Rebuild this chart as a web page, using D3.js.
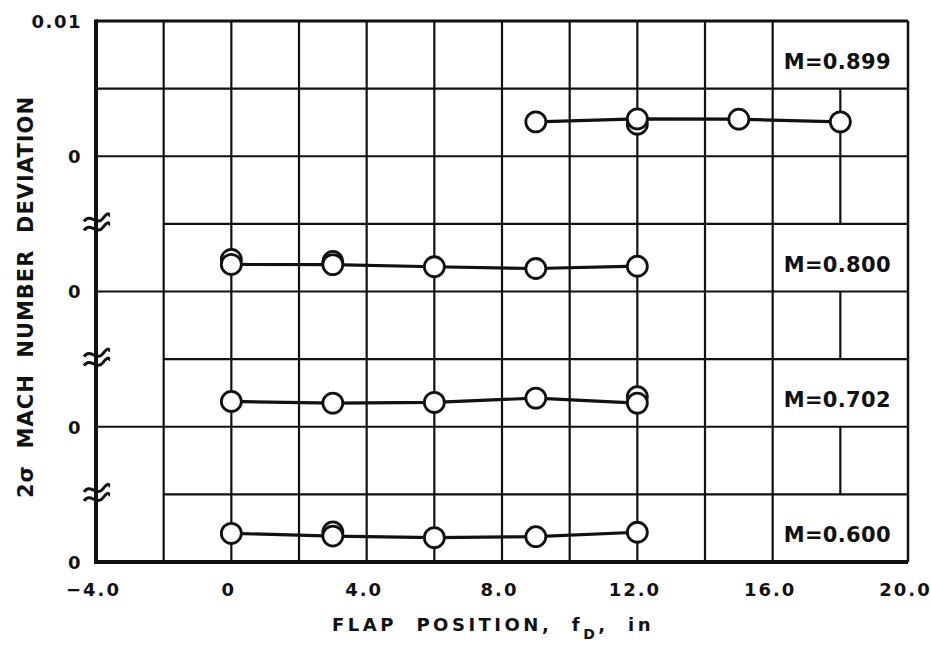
<!DOCTYPE html>
<html>
<head>
<meta charset="utf-8">
<script src="https://cdn.jsdelivr.net/npm/d3@7"></script>
<style>
  html, body { margin: 0; padding: 0; background: #fff; }
  svg text { font-family: "DejaVu Sans", "Liberation Sans", Arial, sans-serif; font-weight: bold; fill: #111; }
</style>
</head>
<body>
<svg id="chart" width="931" height="645"></svg>
<script>
// Flap position sweeps (inches) and 2-sigma Mach number deviation for each Mach number.
const machLabels = ["M=0.899", "M=0.800", "M=0.702", "M=0.600"];
const panelBase = [0.03, 0.02, 0.01, 0.0];        // stacked zero of each Mach panel
const labelRowBase = [0.035, 0.02, 0.01, 0.0];    // bottom of the row holding each M= label

const flap899 = [9, 12, 15, 18];
const dev899 = [0.00254, 0.00276, 0.00274, 0.00254];
const flapLow = [0, 3, 6, 9, 12];
const dev800 = [0.00200, 0.00199, 0.00183, 0.00170, 0.00187];
const dev702 = [0.00187, 0.00175, 0.00180, 0.00212, 0.00175];
const dev600 = [0.00212, 0.00192, 0.00180, 0.00187, 0.00220];

// Repeated runs plotted behind the main symbols: [flap, deviation]
const repeat899 = [[12, 0.00237]];
const repeat800 = [[0, 0.00237], [3, 0.00222]];
const repeat702 = [[12, 0.00222]];
const repeat600 = [[3, 0.00222]];

const xTicks = [-4, 0, 4, 8, 12, 16, 20];
const xTickLabels = ["\u22124.0", "0", "4.0", "8.0", "12.0", "16.0", "20.0"];
const yTicks = [0, 0.01, 0.02, 0.03, 0.04];
const yTickLabels = ["0", "0", "0", "0", "0.01"];
const breakLevels = [0.005, 0.015, 0.025];

const series = [
  { flap: flap899, dev: dev899, repeats: repeat899 },
  { flap: flapLow, dev: dev800, repeats: repeat800 },
  { flap: flapLow, dev: dev702, repeats: repeat702 },
  { flap: flapLow, dev: dev600, repeats: repeat600 }
];

const svg = d3.select("#chart");
const x = d3.scaleLinear().domain([-4, 20]).range([96, 908]);
const y = d3.scaleLinear().domain([0, 0.04]).range([562, 21]);

// spread a text's letters so that it covers the given width
function fitWidth(sel, width) {
  sel.attr("letter-spacing", 0);
  const node = sel.node();
  const natural = node.getComputedTextLength();
  const n = node.textContent.length;
  sel.attr("letter-spacing", Math.max(0, (width - natural) / Math.max(1, n - 1)));
}

const grid = svg.append("g").attr("stroke", "#111").attr("stroke-width", 2.2).attr("fill", "none");

// vertical grid lines
const labelRows = labelRowBase.map(v => Math.round(v / 0.005));
d3.range(-2, 18, 2).forEach(v => {
  grid.append("line").attr("x1", x(v)).attr("x2", x(v)).attr("y1", y(0)).attr("y2", y(0.04));
});
// the line at 18 in stops at the label cells
d3.range(0, 8).filter(r => !labelRows.includes(r)).forEach(r => {
  grid.append("line").attr("x1", x(18)).attr("x2", x(18))
    .attr("y1", y(r * 0.005)).attr("y2", y((r + 1) * 0.005));
});

// horizontal grid lines
d3.range(1, 8).forEach(r => {
  const v = r * 0.005;
  const isBreak = breakLevels.some(b => Math.abs(b - v) < 1e-9);
  grid.append("line").attr("x1", x(isBreak ? -2 : -4)).attr("x2", x(20))
    .attr("y1", y(v)).attr("y2", y(v));
});

// frame
svg.append("line").attr("x1", x(-4)).attr("x2", x(20)).attr("y1", y(0.04)).attr("y2", y(0.04))
  .attr("stroke", "#111").attr("stroke-width", 3);
svg.append("line").attr("x1", x(20)).attr("x2", x(20)).attr("y1", y(0)).attr("y2", y(0.04))
  .attr("stroke", "#111").attr("stroke-width", 2.5);
svg.append("line").attr("x1", x(-4)).attr("x2", x(20)).attr("y1", y(0)).attr("y2", y(0))
  .attr("stroke", "#111").attr("stroke-width", 4);
svg.append("line").attr("x1", x(-4)).attr("x2", x(-4)).attr("y1", y(0) + 2).attr("y2", y(0.04) - 1.5)
  .attr("stroke", "#111").attr("stroke-width", 4);

// axis break marks
breakLevels.forEach(b => {
  const cx = x(-4), cy = y(b);
  [-4.5, 4.5].forEach(off => {
    svg.append("path")
      .attr("d", `M${cx - 12},${cy + off + 2} C${cx - 6},${cy + off - 7} ${cx + 1},${cy + off + 7} ${cx + 7},${cy + off - 1} S${cx + 13},${cy + off - 4} ${cx + 14},${cy + off - 4}`)
      .attr("fill", "none").attr("stroke", "#111").attr("stroke-width", 3);
  });
});

// Mach number labels
labelRowBase.forEach((v, i) => {
  const t = svg.append("text")
    .attr("x", x(18) - 3).attr("y", (y(v) + y(v + 0.005)) / 2 + 14)
    .attr("text-anchor", "middle").attr("font-size", 21)
    .text(machLabels[i]);
  fitWidth(t, 107);
});

// data
const line = d3.line().x(d => x(d[0])).y(d => y(d[1]));
series.forEach((s, i) => {
  const base = panelBase[i];
  const pts = s.flap.map((f, k) => [f, base + s.dev[k]]);
  svg.append("path").datum(pts).attr("d", line)
    .attr("fill", "none").attr("stroke", "#111").attr("stroke-width", 3.2);
  svg.selectAll(null).data(s.repeats.map(d => [d[0], base + d[1]])).enter()
    .append("circle").attr("cx", d => x(d[0])).attr("cy", d => y(d[1])).attr("r", 10)
    .attr("fill", "#fff").attr("stroke", "#111").attr("stroke-width", 2.8);
  svg.selectAll(null).data(pts).enter()
    .append("circle").attr("cx", d => x(d[0])).attr("cy", d => y(d[1])).attr("r", 10)
    .attr("fill", "#fff").attr("stroke", "#111").attr("stroke-width", 2.8);
});

// x axis labels
const xAxis = d3.axisBottom(x).tickValues(xTicks).tickSize(0).tickPadding(0)
  .tickFormat((d, i) => xTickLabels[i]);
const gx = svg.append("g").attr("transform", `translate(0,${y(0)})`).call(xAxis);
gx.select(".domain").remove();
gx.selectAll("text").attr("y", 34).attr("dy", null).attr("dx", -3)
  .attr("font-size", 18).attr("letter-spacing", 2)
  .attr("font-family", null).attr("fill", "#111");

// y axis labels
const yAxis = d3.axisLeft(y).tickValues(yTicks).tickSize(0).tickPadding(0)
  .tickFormat((d, i) => yTickLabels[i]);
const gy = svg.append("g").attr("transform", `translate(${x(-4)},0)`).call(yAxis);
gy.select(".domain").remove();
gy.selectAll("text").attr("x", -14).attr("dy", "0.36em")
  .attr("font-size", 18).attr("letter-spacing", 1.5)
  .attr("font-family", null).attr("fill", "#111");

// axis titles
const xt = svg.append("text").attr("x", 332).attr("y", 631)
  .attr("font-size", 18).attr("letter-spacing", 3.5).attr("xml:space", "preserve");
xt.append("tspan").text("FLAP  POSITION,  f");
xt.append("tspan").attr("dy", 8).attr("font-size", 14).text("D");
xt.append("tspan").attr("dy", -8).text(",  in");

const yt = svg.append("text")
  .attr("transform", `translate(33,297) rotate(-90)`)
  .attr("text-anchor", "middle").attr("font-size", 21)
  .attr("xml:space", "preserve")
  .text("2\u03c3  MACH  NUMBER  DEVIATION");
fitWidth(yt, 401);
</script>
</body>
</html>
